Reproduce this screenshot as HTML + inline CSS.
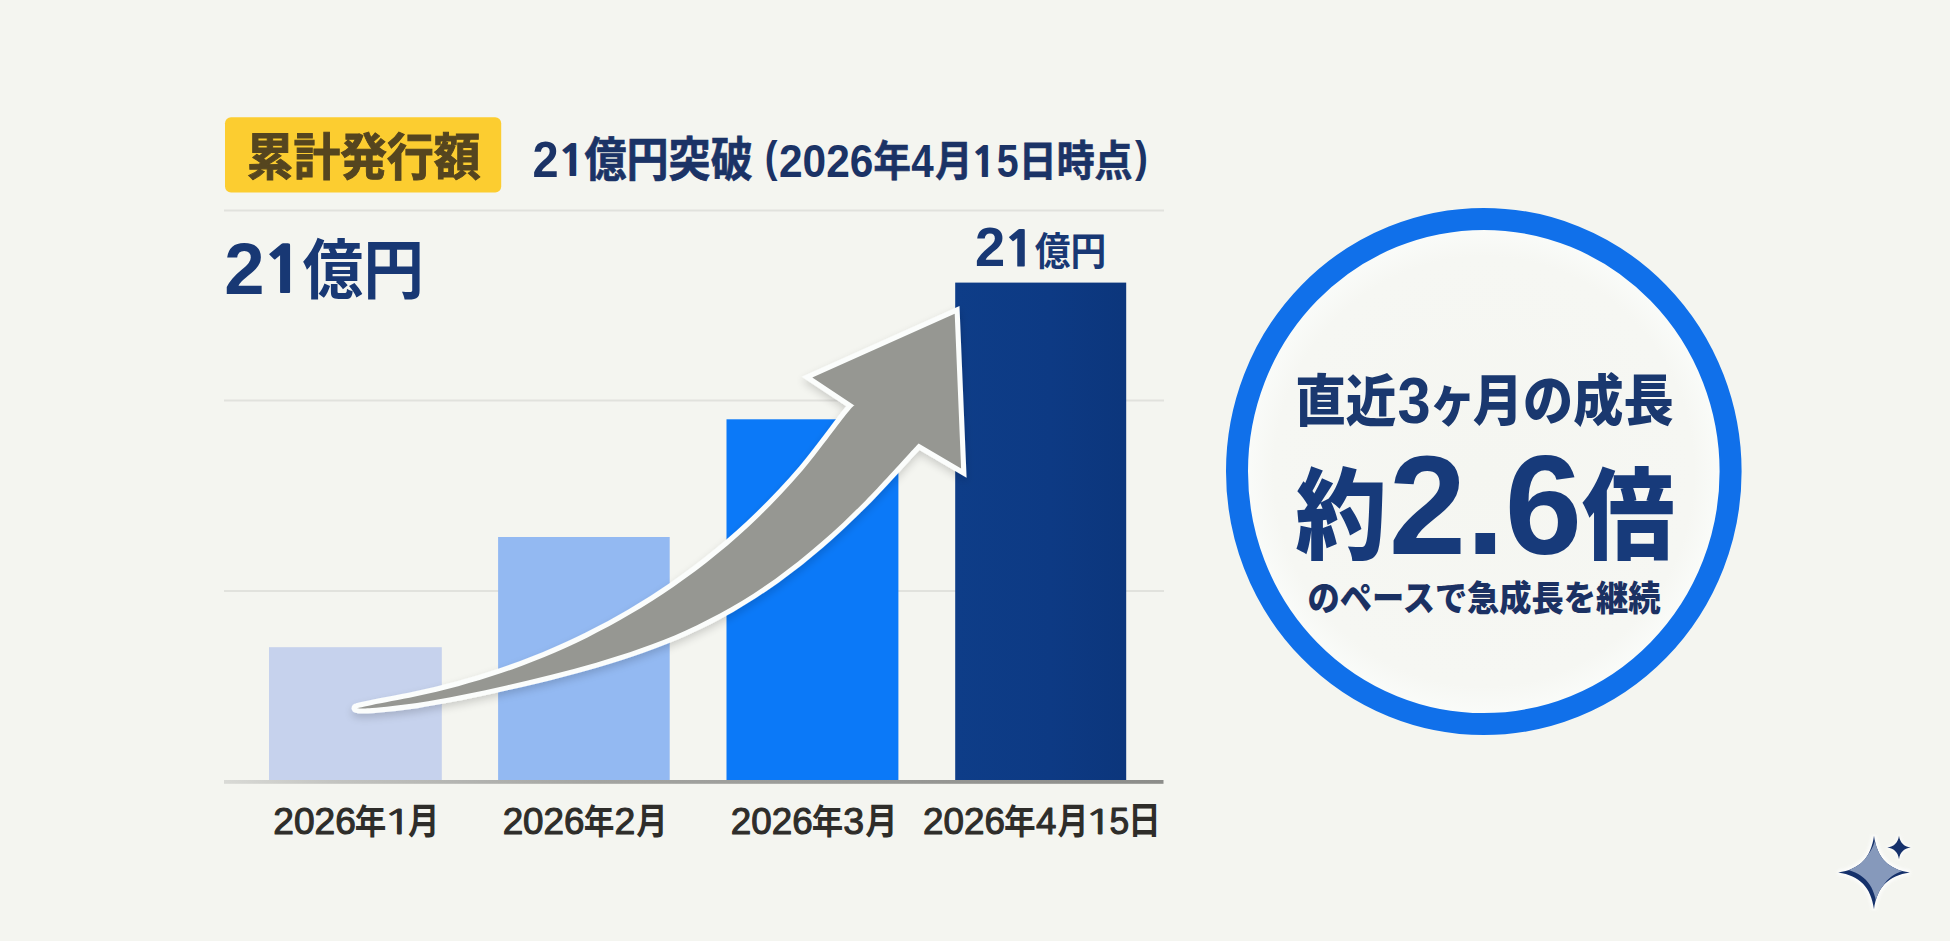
<!DOCTYPE html>
<html lang="ja">
<head>
<meta charset="utf-8">
<title>累計発行額 21億円突破</title>
<style>
html,body{margin:0;padding:0;background:#f4f5f0;}
body{width:1950px;height:941px;overflow:hidden;position:relative;font-family:"Liberation Sans","Noto Sans CJK JP",sans-serif;}
svg{position:absolute;left:0;top:0;display:block;}
</style>
</head>
<body>
<svg width="1950" height="941" viewBox="0 0 1950 941">
  <defs>
    <linearGradient id="bar4" x1="0" y1="0" x2="1" y2="0">
      <stop offset="0" stop-color="#0e3d88"/>
      <stop offset="0.55" stop-color="#0d3a84"/>
      <stop offset="1" stop-color="#0c367c"/>
    </linearGradient>
    <filter id="ashadow" x="-10%" y="-10%" width="120%" height="130%">
      <feGaussianBlur in="SourceAlpha" stdDeviation="4"/>
      <feOffset dx="0" dy="4" result="b"/>
      <feComponentTransfer><feFuncA type="linear" slope="0.17"/></feComponentTransfer>
      <feMerge><feMergeNode/><feMergeNode in="SourceGraphic"/></feMerge>
    </filter>
    <linearGradient id="axis" x1="0" y1="0" x2="1" y2="0">
      <stop offset="0" stop-color="#d9dad6"/>
      <stop offset="0.12" stop-color="#c2c3c0"/>
      <stop offset="0.4" stop-color="#a3a4a1"/>
      <stop offset="1" stop-color="#8c8d8a"/>
    </linearGradient>
    <clipPath id="starclip"><path d="M1874.00 835.70 C1877.04 857.78 1888.32 869.37 1909.80 872.50 C1888.32 875.63 1877.04 887.22 1874.00 909.30 C1870.96 887.22 1859.68 875.63 1838.20 872.50 C1859.68 869.37 1870.96 857.78 1874.00 835.70 Z"/></clipPath>
    <filter id="glow" x="-30%" y="-30%" width="160%" height="160%"><feGaussianBlur stdDeviation="1.6"/></filter>
    <radialGradient id="cfill" cx="0.5" cy="0.5" r="0.5">
      <stop offset="0" stop-color="#f5f6f1"/>
      <stop offset="0.85" stop-color="#f6f7f3"/>
      <stop offset="1" stop-color="#fbfdfb"/>
    </radialGradient>
  </defs>

  <rect x="0" y="0" width="1950" height="941" fill="#f4f5f0"/>

  <!-- grid lines -->
  <g stroke="#e1e2dd" stroke-width="2">
    <line x1="224" y1="210.5" x2="1164" y2="210.5"/>
    <line x1="224" y1="400.5" x2="1164" y2="400.5"/>
    <line x1="224" y1="591" x2="1164" y2="591"/>
  </g>

  <!-- header tag -->
  <rect x="225" y="117.3" width="276.2" height="75.1" rx="6" ry="6" fill="#fccd30"/>

  <!-- bars -->
  <rect x="269" y="647.2" width="172.8" height="133.8" fill="#c6d2ed"/>
  <rect x="498.1" y="537" width="171.6" height="244" fill="#93b9f2"/>
  <rect x="726.5" y="419.3" width="171.9" height="361.7" fill="#0b79f8"/>
  <rect x="955.2" y="282.6" width="171" height="498.4" fill="url(#bar4)"/>

  <!-- axis -->
  <rect x="224" y="780" width="939.5" height="3.8" fill="url(#axis)"/>

  <!-- arrow -->
  <g filter="url(#ashadow)">
    <circle cx="356.4" cy="708.2" r="4.8" fill="#fbfdfc"/>
    <path d="M357.0 708.2 C359.5 707.7 362.3 706.9 372.0 704.9 C381.7 703.0 400.7 699.7 415.1 696.6 C429.5 693.5 443.8 690.1 458.2 686.2 C472.5 682.3 486.9 678.0 501.3 673.1 C515.6 668.3 530.0 662.9 544.4 657.0 C558.7 651.0 573.1 644.6 587.5 637.4 C601.8 630.3 616.2 622.6 630.5 614.1 C644.9 605.7 659.3 596.6 673.6 586.7 C688.0 576.7 702.4 566.1 716.7 554.3 C731.1 542.5 745.5 529.9 759.8 515.9 C774.2 501.8 788.5 486.9 802.9 470.0 C817.3 453.1 837.4 425.2 846.0 414.5 C854.6 403.7 853.0 406.9 854.4 405.4 L812.3 377.6 L954.7 313.8 L961.1 468.5 L918.6 443.5 C917.2 445.0 918.9 443.2 910.0 452.7 C901.1 462.3 880.1 485.8 865.2 500.9 C850.2 515.9 835.3 530.2 820.3 543.1 C805.4 556.1 790.4 567.9 775.5 578.7 C760.6 589.4 745.6 598.9 730.7 607.5 C715.7 616.1 700.8 623.6 685.8 630.4 C670.9 637.2 655.9 642.9 641.0 648.3 C626.1 653.7 611.1 658.3 596.2 662.7 C581.2 667.1 566.3 671.0 551.3 674.8 C536.4 678.6 521.4 682.0 506.5 685.4 C491.6 688.8 476.6 692.1 461.7 695.0 C446.7 697.9 431.8 700.9 416.8 703.1 C401.9 705.3 382.0 707.3 372.0 708.1 C362.0 709.0 359.5 708.2 357.0 708.2 Z"
      fill="#969792" stroke="#fbfdfc" stroke-width="10.2" stroke-linejoin="miter" stroke-miterlimit="5" paint-order="stroke fill"/>
  </g>

  <!-- circle -->
  <ellipse cx="1483.8" cy="471.5" rx="246.8" ry="252.6" fill="url(#cfill)" stroke="#1070ea" stroke-width="22"/>

  <!-- texts -->
  <text aria-label="累計発行額"><tspan x="246.63" textLength="233.84" lengthAdjust="spacingAndGlyphs" y="174.56" font-family="'Noto Sans CJK JP','Liberation Sans',sans-serif" font-size="50.37" font-weight="700" fill="#55451f" stroke="#55451f" stroke-width="1">累計発行額</tspan></text>
  <text aria-label="21億円突破 (2026年4月15日時点)"><tspan x="532.49" textLength="26.11" lengthAdjust="spacingAndGlyphs" y="176.60" font-family="'Liberation Sans','Noto Sans CJK JP',sans-serif" font-size="49.43" font-weight="700" fill="#1b3366">2</tspan><tspan x="557.19" textLength="29.17" lengthAdjust="spacingAndGlyphs" y="176.38" font-family="'NanumGothic','Liberation Sans',sans-serif" font-size="43.85" font-weight="800" fill="#1b3366">1</tspan><tspan x="584.38" textLength="168.38" lengthAdjust="spacingAndGlyphs" y="175.92" font-family="'Noto Sans CJK JP','Liberation Sans',sans-serif" font-size="46.11" font-weight="700" fill="#1b3366" stroke="#1b3366" stroke-width="0.7">億円突破</tspan> <tspan x="764.68" textLength="12.75" lengthAdjust="spacingAndGlyphs" y="171.77" font-family="'Liberation Sans','Noto Sans CJK JP',sans-serif" font-size="43.96" font-weight="700" fill="#1b3366">(</tspan><tspan x="779.03" textLength="94.41" lengthAdjust="spacingAndGlyphs" y="176.84" font-family="'Liberation Sans','Noto Sans CJK JP',sans-serif" font-size="46.20" font-weight="700" fill="#1b3366">2026</tspan><tspan x="873.39" textLength="37.41" lengthAdjust="spacingAndGlyphs" y="176.23" font-family="'Noto Sans CJK JP','Liberation Sans',sans-serif" font-size="41.78" font-weight="700" fill="#1b3366" stroke="#1b3366" stroke-width="0.7">年</tspan><tspan x="911.29" textLength="22.45" lengthAdjust="spacingAndGlyphs" y="176.80" font-family="'Liberation Sans','Noto Sans CJK JP',sans-serif" font-size="46.38" font-weight="700" fill="#1b3366">4</tspan><tspan x="935.26" textLength="37.21" lengthAdjust="spacingAndGlyphs" y="176.20" font-family="'Noto Sans CJK JP','Liberation Sans',sans-serif" font-size="42.11" font-weight="700" fill="#1b3366" stroke="#1b3366" stroke-width="0.7">月</tspan><tspan x="970.46" textLength="26.91" lengthAdjust="spacingAndGlyphs" y="176.59" font-family="'NanumGothic','Liberation Sans',sans-serif" font-size="41.03" font-weight="800" fill="#1b3366">1</tspan><tspan x="996.72" textLength="21.91" lengthAdjust="spacingAndGlyphs" y="176.84" font-family="'Liberation Sans','Noto Sans CJK JP',sans-serif" font-size="45.86" font-weight="700" fill="#1b3366">5</tspan><tspan x="1018.71" textLength="113.83" lengthAdjust="spacingAndGlyphs" y="176.22" font-family="'Noto Sans CJK JP','Liberation Sans',sans-serif" font-size="42.01" font-weight="700" fill="#1b3366" stroke="#1b3366" stroke-width="0.7">日時点</tspan><tspan x="1135.00" textLength="12.85" lengthAdjust="spacingAndGlyphs" y="171.77" font-family="'Liberation Sans','Noto Sans CJK JP',sans-serif" font-size="43.96" font-weight="700" fill="#1b3366">)</tspan></text>
  <text aria-label="21億円"><tspan x="224.13" textLength="40.29" lengthAdjust="spacingAndGlyphs" y="293.80" font-family="'Liberation Sans','Noto Sans CJK JP',sans-serif" font-size="72.86" font-weight="700" fill="#183874">2</tspan><tspan x="261.61" textLength="44.17" lengthAdjust="spacingAndGlyphs" y="293.48" font-family="'NanumGothic','Liberation Sans',sans-serif" font-size="64.62" font-weight="800" fill="#183874">1</tspan><tspan x="302.59" textLength="121.46" lengthAdjust="spacingAndGlyphs" y="293.35" font-family="'Noto Sans CJK JP','Liberation Sans',sans-serif" font-size="64.76" font-weight="700" fill="#183874">億円</tspan></text>
  <text aria-label="21億円"><tspan x="974.97" textLength="30.19" lengthAdjust="spacingAndGlyphs" y="266.40" font-family="'Liberation Sans','Noto Sans CJK JP',sans-serif" font-size="54.71" font-weight="700" fill="#183874">2</tspan><tspan x="1003.31" textLength="33.28" lengthAdjust="spacingAndGlyphs" y="266.16" font-family="'NanumGothic','Liberation Sans',sans-serif" font-size="48.46" font-weight="800" fill="#183874">1</tspan><tspan x="1034.84" textLength="71.56" lengthAdjust="spacingAndGlyphs" y="265.41" font-family="'Noto Sans CJK JP','Liberation Sans',sans-serif" font-size="38.84" font-weight="700" fill="#183874">億円</tspan></text>
  <text aria-label="直近3ヶ月の成長"><tspan x="1295.27" textLength="101.09" lengthAdjust="spacingAndGlyphs" y="421.10" font-family="'Noto Sans CJK JP','Liberation Sans',sans-serif" font-size="55.96" font-weight="900" fill="#1a386f">直近</tspan><tspan x="1397.51" textLength="33.15" lengthAdjust="spacingAndGlyphs" y="422.95" font-family="'Liberation Sans','Noto Sans CJK JP',sans-serif" font-size="65.07" font-weight="700" fill="#1a386f">3</tspan><tspan x="1429.96" textLength="45.44" lengthAdjust="spacingAndGlyphs" y="419.59" font-family="'Noto Sans CJK JP','Liberation Sans',sans-serif" font-size="54.67" font-weight="900" fill="#1a386f">ヶ</tspan><tspan x="1472.85" textLength="200.76" lengthAdjust="spacingAndGlyphs" y="420.43" font-family="'Noto Sans CJK JP','Liberation Sans',sans-serif" font-size="54.55" font-weight="900" fill="#1a386f">月の成長</tspan></text>
  <text aria-label="約2.6倍"><tspan x="1295.44" textLength="91.10" lengthAdjust="spacingAndGlyphs" y="551.15" font-family="'Noto Sans CJK JP','Liberation Sans',sans-serif" font-size="98.54" font-weight="900" fill="#173a7a">約</tspan><tspan x="1388.73" textLength="193.30" lengthAdjust="spacingAndGlyphs" y="554.29" font-family="'Liberation Sans','Noto Sans CJK JP',sans-serif" font-size="140.56" font-weight="700" fill="#173a7a">2.6</tspan><tspan x="1582.00" textLength="92.65" lengthAdjust="spacingAndGlyphs" y="550.92" font-family="'Noto Sans CJK JP','Liberation Sans',sans-serif" font-size="98.75" font-weight="900" fill="#173a7a">倍</tspan></text>
  <text aria-label="のペースで急成長を継続"><tspan x="1307.56" textLength="353.00" lengthAdjust="spacingAndGlyphs" y="611.19" font-family="'Noto Sans CJK JP','Liberation Sans',sans-serif" font-size="34.85" font-weight="900" fill="#1b3163">のペースで急成長を継続</tspan></text>
  <text aria-label="2026年1月"><tspan x="273.24" textLength="82.58" lengthAdjust="spacingAndGlyphs" y="833.94" font-family="'Liberation Sans','Noto Sans CJK JP',sans-serif" font-size="36.48" font-weight="400" fill="#2e2d2a" stroke="#2e2d2a" stroke-width="1.1" stroke-linejoin="round">2026</tspan><tspan x="354.70" textLength="31.57" lengthAdjust="spacingAndGlyphs" y="834.05" font-family="'Noto Sans CJK JP','Liberation Sans',sans-serif" font-size="34.24" font-weight="700" fill="#2e2d2a">年</tspan><tspan x="382.66" textLength="30.04" lengthAdjust="spacingAndGlyphs" y="833.93" font-family="'NanumGothic','Liberation Sans',sans-serif" font-size="34.27" font-weight="400" fill="#2e2d2a" stroke="#2e2d2a" stroke-width="0.9">1</tspan><tspan x="407.97" textLength="31.39" lengthAdjust="spacingAndGlyphs" y="833.85" font-family="'Noto Sans CJK JP','Liberation Sans',sans-serif" font-size="36.33" font-weight="700" fill="#2e2d2a">月</tspan></text>
  <text aria-label="2026年2月"><tspan x="502.66" textLength="81.85" lengthAdjust="spacingAndGlyphs" y="833.94" font-family="'Liberation Sans','Noto Sans CJK JP',sans-serif" font-size="36.48" font-weight="400" fill="#2e2d2a" stroke="#2e2d2a" stroke-width="1.1" stroke-linejoin="round">2026</tspan><tspan x="583.73" textLength="30.70" lengthAdjust="spacingAndGlyphs" y="834.05" font-family="'Noto Sans CJK JP','Liberation Sans',sans-serif" font-size="34.24" font-weight="700" fill="#2e2d2a">年</tspan><tspan x="614.63" textLength="20.80" lengthAdjust="spacingAndGlyphs" y="834.30" font-family="'Liberation Sans','Noto Sans CJK JP',sans-serif" font-size="37.00" font-weight="400" fill="#2e2d2a" stroke="#2e2d2a" stroke-width="1.1" stroke-linejoin="round">2</tspan><tspan x="636.27" textLength="31.39" lengthAdjust="spacingAndGlyphs" y="833.85" font-family="'Noto Sans CJK JP','Liberation Sans',sans-serif" font-size="36.33" font-weight="700" fill="#2e2d2a">月</tspan></text>
  <text aria-label="2026年3月"><tspan x="730.86" textLength="81.85" lengthAdjust="spacingAndGlyphs" y="833.94" font-family="'Liberation Sans','Noto Sans CJK JP',sans-serif" font-size="36.48" font-weight="400" fill="#2e2d2a" stroke="#2e2d2a" stroke-width="1.1" stroke-linejoin="round">2026</tspan><tspan x="811.70" textLength="31.46" lengthAdjust="spacingAndGlyphs" y="834.05" font-family="'Noto Sans CJK JP','Liberation Sans',sans-serif" font-size="34.24" font-weight="700" fill="#2e2d2a">年</tspan><tspan x="843.29" textLength="20.86" lengthAdjust="spacingAndGlyphs" y="833.94" font-family="'Liberation Sans','Noto Sans CJK JP',sans-serif" font-size="36.48" font-weight="400" fill="#2e2d2a" stroke="#2e2d2a" stroke-width="1.1" stroke-linejoin="round">3</tspan><tspan x="865.25" textLength="32.36" lengthAdjust="spacingAndGlyphs" y="833.85" font-family="'Noto Sans CJK JP','Liberation Sans',sans-serif" font-size="36.33" font-weight="700" fill="#2e2d2a">月</tspan></text>
  <text aria-label="2026年4月15日"><tspan x="923.06" textLength="81.85" lengthAdjust="spacingAndGlyphs" y="833.94" font-family="'Liberation Sans','Noto Sans CJK JP',sans-serif" font-size="36.48" font-weight="400" fill="#2e2d2a" stroke="#2e2d2a" stroke-width="1.1" stroke-linejoin="round">2026</tspan><tspan x="1003.89" textLength="31.68" lengthAdjust="spacingAndGlyphs" y="834.05" font-family="'Noto Sans CJK JP','Liberation Sans',sans-serif" font-size="34.24" font-weight="700" fill="#2e2d2a">年</tspan><tspan x="1036.07" textLength="20.39" lengthAdjust="spacingAndGlyphs" y="834.11" font-family="'Liberation Sans','Noto Sans CJK JP',sans-serif" font-size="37.27" font-weight="400" fill="#2e2d2a" stroke="#2e2d2a" stroke-width="1.1" stroke-linejoin="round">4</tspan><tspan x="1057.38" textLength="30.91" lengthAdjust="spacingAndGlyphs" y="833.85" font-family="'Noto Sans CJK JP','Liberation Sans',sans-serif" font-size="36.33" font-weight="700" fill="#2e2d2a">月</tspan><tspan x="1083.94" textLength="29.25" lengthAdjust="spacingAndGlyphs" y="833.93" font-family="'NanumGothic','Liberation Sans',sans-serif" font-size="34.27" font-weight="400" fill="#2e2d2a" stroke="#2e2d2a" stroke-width="0.9">1</tspan><tspan x="1109.39" textLength="19.67" lengthAdjust="spacingAndGlyphs" y="833.93" font-family="'Liberation Sans','Noto Sans CJK JP',sans-serif" font-size="37.00" font-weight="400" fill="#2e2d2a" stroke="#2e2d2a" stroke-width="1.1" stroke-linejoin="round">5</tspan><tspan x="1128.06" textLength="32.91" lengthAdjust="spacingAndGlyphs" y="834.14" font-family="'Noto Sans CJK JP','Liberation Sans',sans-serif" font-size="37.16" font-weight="700" fill="#2e2d2a">日</tspan></text>

  <!-- sparkle -->
  <g>
    <path d="M1874.00 835.70 C1877.04 857.78 1888.32 869.37 1909.80 872.50 C1888.32 875.63 1877.04 887.22 1874.00 909.30 C1870.96 887.22 1859.68 875.63 1838.20 872.50 C1859.68 869.37 1870.96 857.78 1874.00 835.70 Z" fill="#ffffff" stroke="#ffffff" stroke-width="5" opacity="0.75" filter="url(#glow)"/>
    <path d="M1899.00 835.80 C1899.99 842.70 1903.80 846.51 1910.70 847.50 C1903.80 848.49 1899.99 852.30 1899.00 859.20 C1898.01 852.30 1894.20 848.49 1887.30 847.50 C1894.20 846.51 1898.01 842.70 1899.00 835.80 Z" fill="#ffffff" stroke="#ffffff" stroke-width="3" opacity="0.6" filter="url(#glow)"/>
    <path d="M1874.00 835.70 C1877.04 857.78 1888.32 869.37 1909.80 872.50 C1888.32 875.63 1877.04 887.22 1874.00 909.30 C1870.96 887.22 1859.68 875.63 1838.20 872.50 C1859.68 869.37 1870.96 857.78 1874.00 835.70 Z" fill="#15316b"/>
    <g clip-path="url(#starclip)">
      <path d="M1874.00 835.70 C1877.04 857.78 1888.32 869.37 1909.80 872.50 C1888.32 875.63 1877.04 887.22 1874.00 909.30 C1870.96 887.22 1859.68 875.63 1838.20 872.50 C1859.68 869.37 1870.96 857.78 1874.00 835.70 Z" fill="#8699bb" transform="translate(2.8 -4.0)"/>
    </g>
    <path d="M1899.00 835.80 C1899.99 842.70 1903.80 846.51 1910.70 847.50 C1903.80 848.49 1899.99 852.30 1899.00 859.20 C1898.01 852.30 1894.20 848.49 1887.30 847.50 C1894.20 846.51 1898.01 842.70 1899.00 835.80 Z" fill="#15316b"/>
  </g>
</svg>
</body>
</html>
